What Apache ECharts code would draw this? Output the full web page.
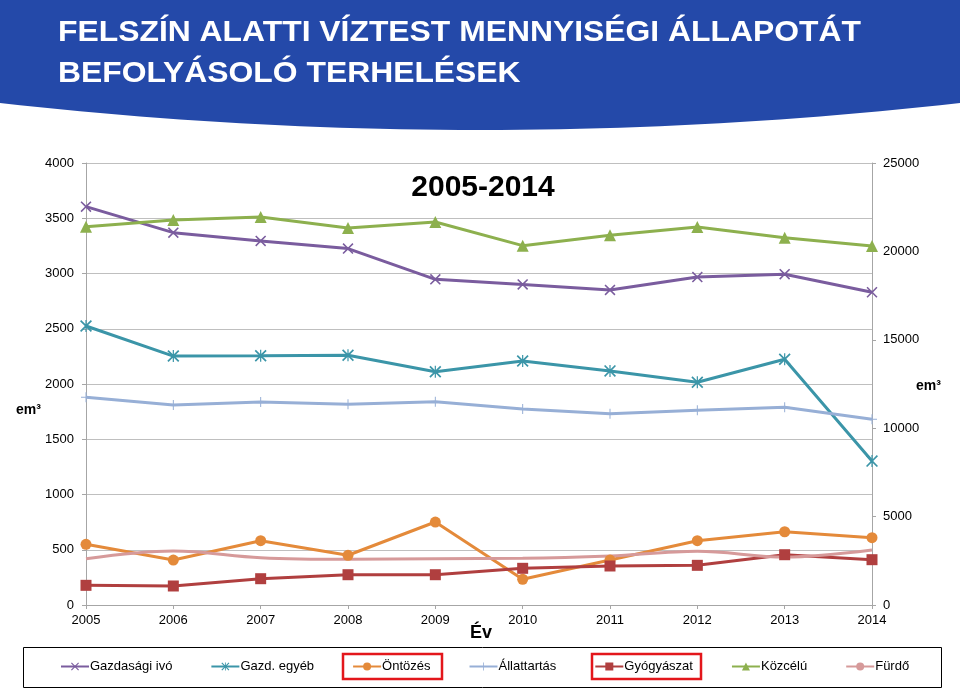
<!DOCTYPE html>
<html>
<head>
<meta charset="utf-8">
<script src="https://cdn.jsdelivr.net/npm/echarts@6/dist/echarts.min.js"></script>
<style>
html,body{margin:0;padding:0;background:#fff;}
#c{width:960px;height:689px;}
</style>
</head>
<body>
<div id="c"></div>
<script>
var years = ['2005','2006','2007','2008','2009','2010','2011','2012','2013','2014'];
// secondary (right) axis series, em3
var gazdIvo   = [22530, 21060, 20590, 20160, 18420, 18130, 17820, 18550, 18710, 17690];
var gazdEgyeb = [15780, 14080, 14100, 14125, 13190, 13800, 13240, 12600, 13900, 8140];
var kozcelu   = [21400, 21775, 21940, 21325, 21660, 20325, 20910, 21380, 20775, 20300];
// primary (left) axis series, em3
var ontozes     = [549, 407, 582, 450, 751, 233, 407, 582, 663, 609];
var allattartas = [1880, 1810, 1837, 1816, 1840, 1774, 1731, 1762, 1789, 1680];
var gyogyaszat  = [178, 172, 238, 274, 274, 332, 353, 359, 455, 410];
var furdo       = [419, 489, 428, 413, 419, 422, 443, 486, 434, 498];
var leftTicks = {min: 0, max: 4000, interval: 500};
var rightTicks = {min: 0, max: 25000, interval: 5000};

var X_PATH = 'path://M0,1 L1,0 L5,4 L9,0 L10,1 L6,5 L10,9 L9,10 L5,6 L1,10 L0,9 L4,5 Z';
var AST_PATH = 'path://M0,1 L1,0 L5,4 L9,0 L10,1 L6,5 L10,9 L9,10 L5,6 L1,10 L0,9 L4,5 Z M4.5,0 L5.5,0 L5.5,10 L4.5,10 Z';
var PLUS_PATH = 'path://M4.5,0 L5.5,0 L5.5,4.5 L10,4.5 L10,5.5 L5.5,5.5 L5.5,10 L4.5,10 L4.5,5.5 L0,5.5 L0,4.5 L4.5,4.5 Z';

// header band shape (curved bottom edge)
var bandPts = [[0, 0], [960, 0]];
for (var i = 0; i <= 48; i++) {
  var t = 1 - i / 48;
  var px = 960 * t;
  var py = (1 - t) * (1 - t) * 103 + 2 * (1 - t) * t * 157 + t * t * 103;
  bandPts.push([px, py]);
}

function ser(name, data, axis, color, symbol, size, smooth) {
  return {
    name: name, type: 'line', data: data, yAxisIndex: axis,
    symbol: symbol, symbolSize: size, showSymbol: symbol !== 'none',
    smooth: smooth || false,
    lineStyle: {width: 3, color: color},
    itemStyle: {color: color},
    emphasis: {disabled: true},
    animation: false
  };
}
function plain(v) { return String(v); }

var chart = echarts.init(document.getElementById('c'));
var grey = '#BFBFBF';
var FONT = 'Liberation Sans, Arial, sans-serif';
chart.setOption({
  animation: false,
  backgroundColor: '#fff',
  grid: {left: 86, right: 88, top: 163, bottom: 84, containLabel: false},
  xAxis: {
    type: 'category', data: years, boundaryGap: false,
    axisLine: {lineStyle: {color: '#A6A6A6', width: 1}},
    axisTick: {show: true, length: 4, alignWithLabel: true, lineStyle: {color: '#A6A6A6'}},
    axisLabel: {color: '#000', fontSize: 13, fontFamily: FONT, margin: 9},
    splitLine: {show: false}
  },
  yAxis: [
    {
      type: 'value', min: leftTicks.min, max: leftTicks.max, interval: leftTicks.interval,
      axisLine: {show: true, lineStyle: {color: '#A6A6A6'}},
      axisTick: {show: true, length: 4, lineStyle: {color: '#A6A6A6'}},
      axisLabel: {color: '#000', fontSize: 13, fontFamily: FONT, margin: 12, formatter: plain},
      splitLine: {show: true, lineStyle: {color: grey, width: 1}}
    },
    {
      type: 'value', min: rightTicks.min, max: rightTicks.max, interval: rightTicks.interval, position: 'right',
      axisLine: {show: true, lineStyle: {color: '#A6A6A6'}},
      axisTick: {show: true, length: 4, lineStyle: {color: '#A6A6A6'}},
      axisLabel: {color: '#000', fontSize: 13, fontFamily: FONT, margin: 11, formatter: plain},
      splitLine: {show: false}
    }
  ],
  legend: {
    left: 60, top: 660, padding: 0, itemWidth: 28, itemHeight: 10, itemGap: 38,
    textStyle: {color: '#000', fontSize: 13, fontFamily: FONT, padding: [0, 0, 0, -4]},
    selectedMode: false,
    data: ['Gazdasági ivó','Gazd. egyéb','Öntözés','Állattartás','Gyógyászat','Közcélú','Fürdő']
  },
  graphic: [
    {type: 'polygon', shape: {points: bandPts}, style: {fill: '#2449A9'}, z: 0},
    {type: 'text', x: 58, y: 33, scaleX: 1.062, style: {text: 'FELSZÍN ALATTI VÍZTEST MENNYISÉGI ÁLLAPOTÁT', fill: '#fff', font: 'bold 30px "Liberation Sans", Arial, sans-serif', verticalAlign: 'middle'}},
    {type: 'text', x: 58, y: 74, scaleX: 1.062, style: {text: 'BEFOLYÁSOLÓ TERHELÉSEK', fill: '#fff', font: 'bold 30px "Liberation Sans", Arial, sans-serif', verticalAlign: 'middle'}},
    {type: 'text', x: 483, y: 188, style: {text: '2005-2014', fill: '#000', font: 'bold 30px "Liberation Sans", Arial, sans-serif', align: 'center', verticalAlign: 'middle'}},
    {type: 'text', x: 481, y: 633, style: {text: 'Év', fill: '#000', font: 'bold 18px "Liberation Sans", Arial, sans-serif', align: 'center', verticalAlign: 'middle'}},
    {type: 'text', x: 16, y: 410, style: {text: 'em³', fill: '#000', font: 'bold 14px "Liberation Sans", Arial, sans-serif', verticalAlign: 'middle'}},
    {type: 'text', x: 916, y: 386, style: {text: 'em³', fill: '#000', font: 'bold 14px "Liberation Sans", Arial, sans-serif', verticalAlign: 'middle'}},
    {type: 'rect', shape: {x: 23.5, y: 647.5, width: 918, height: 40}, style: {fill: 'none', stroke: '#000', lineWidth: 1}},
    {type: 'rect', shape: {x: 343, y: 654, width: 99, height: 25}, style: {fill: 'none', stroke: '#E3161B', lineWidth: 2.5}},
    {type: 'rect', shape: {x: 592, y: 654, width: 109, height: 25}, style: {fill: 'none', stroke: '#E3161B', lineWidth: 2.5}}
  ],
  series: [
    ser('Gazdasági ivó', gazdIvo, 1, '#7A5C9E', X_PATH, 11),
    ser('Gazd. egyéb', gazdEgyeb, 1, '#3B95A8', AST_PATH, 12),
    ser('Öntözés', ontozes, 0, '#E48A3A', 'circle', 11),
    ser('Állattartás', allattartas, 0, '#97AFD6', PLUS_PATH, 10),
    ser('Gyógyászat', gyogyaszat, 0, '#B03F3F', 'rect', 11),
    ser('Közcélú', kozcelu, 1, '#8DB04E', 'triangle', 12),
    ser('Fürdő', furdo, 0, '#D69A9A', 'none', 0, 0.35)
  ]
});
</script>
</body>
</html>
